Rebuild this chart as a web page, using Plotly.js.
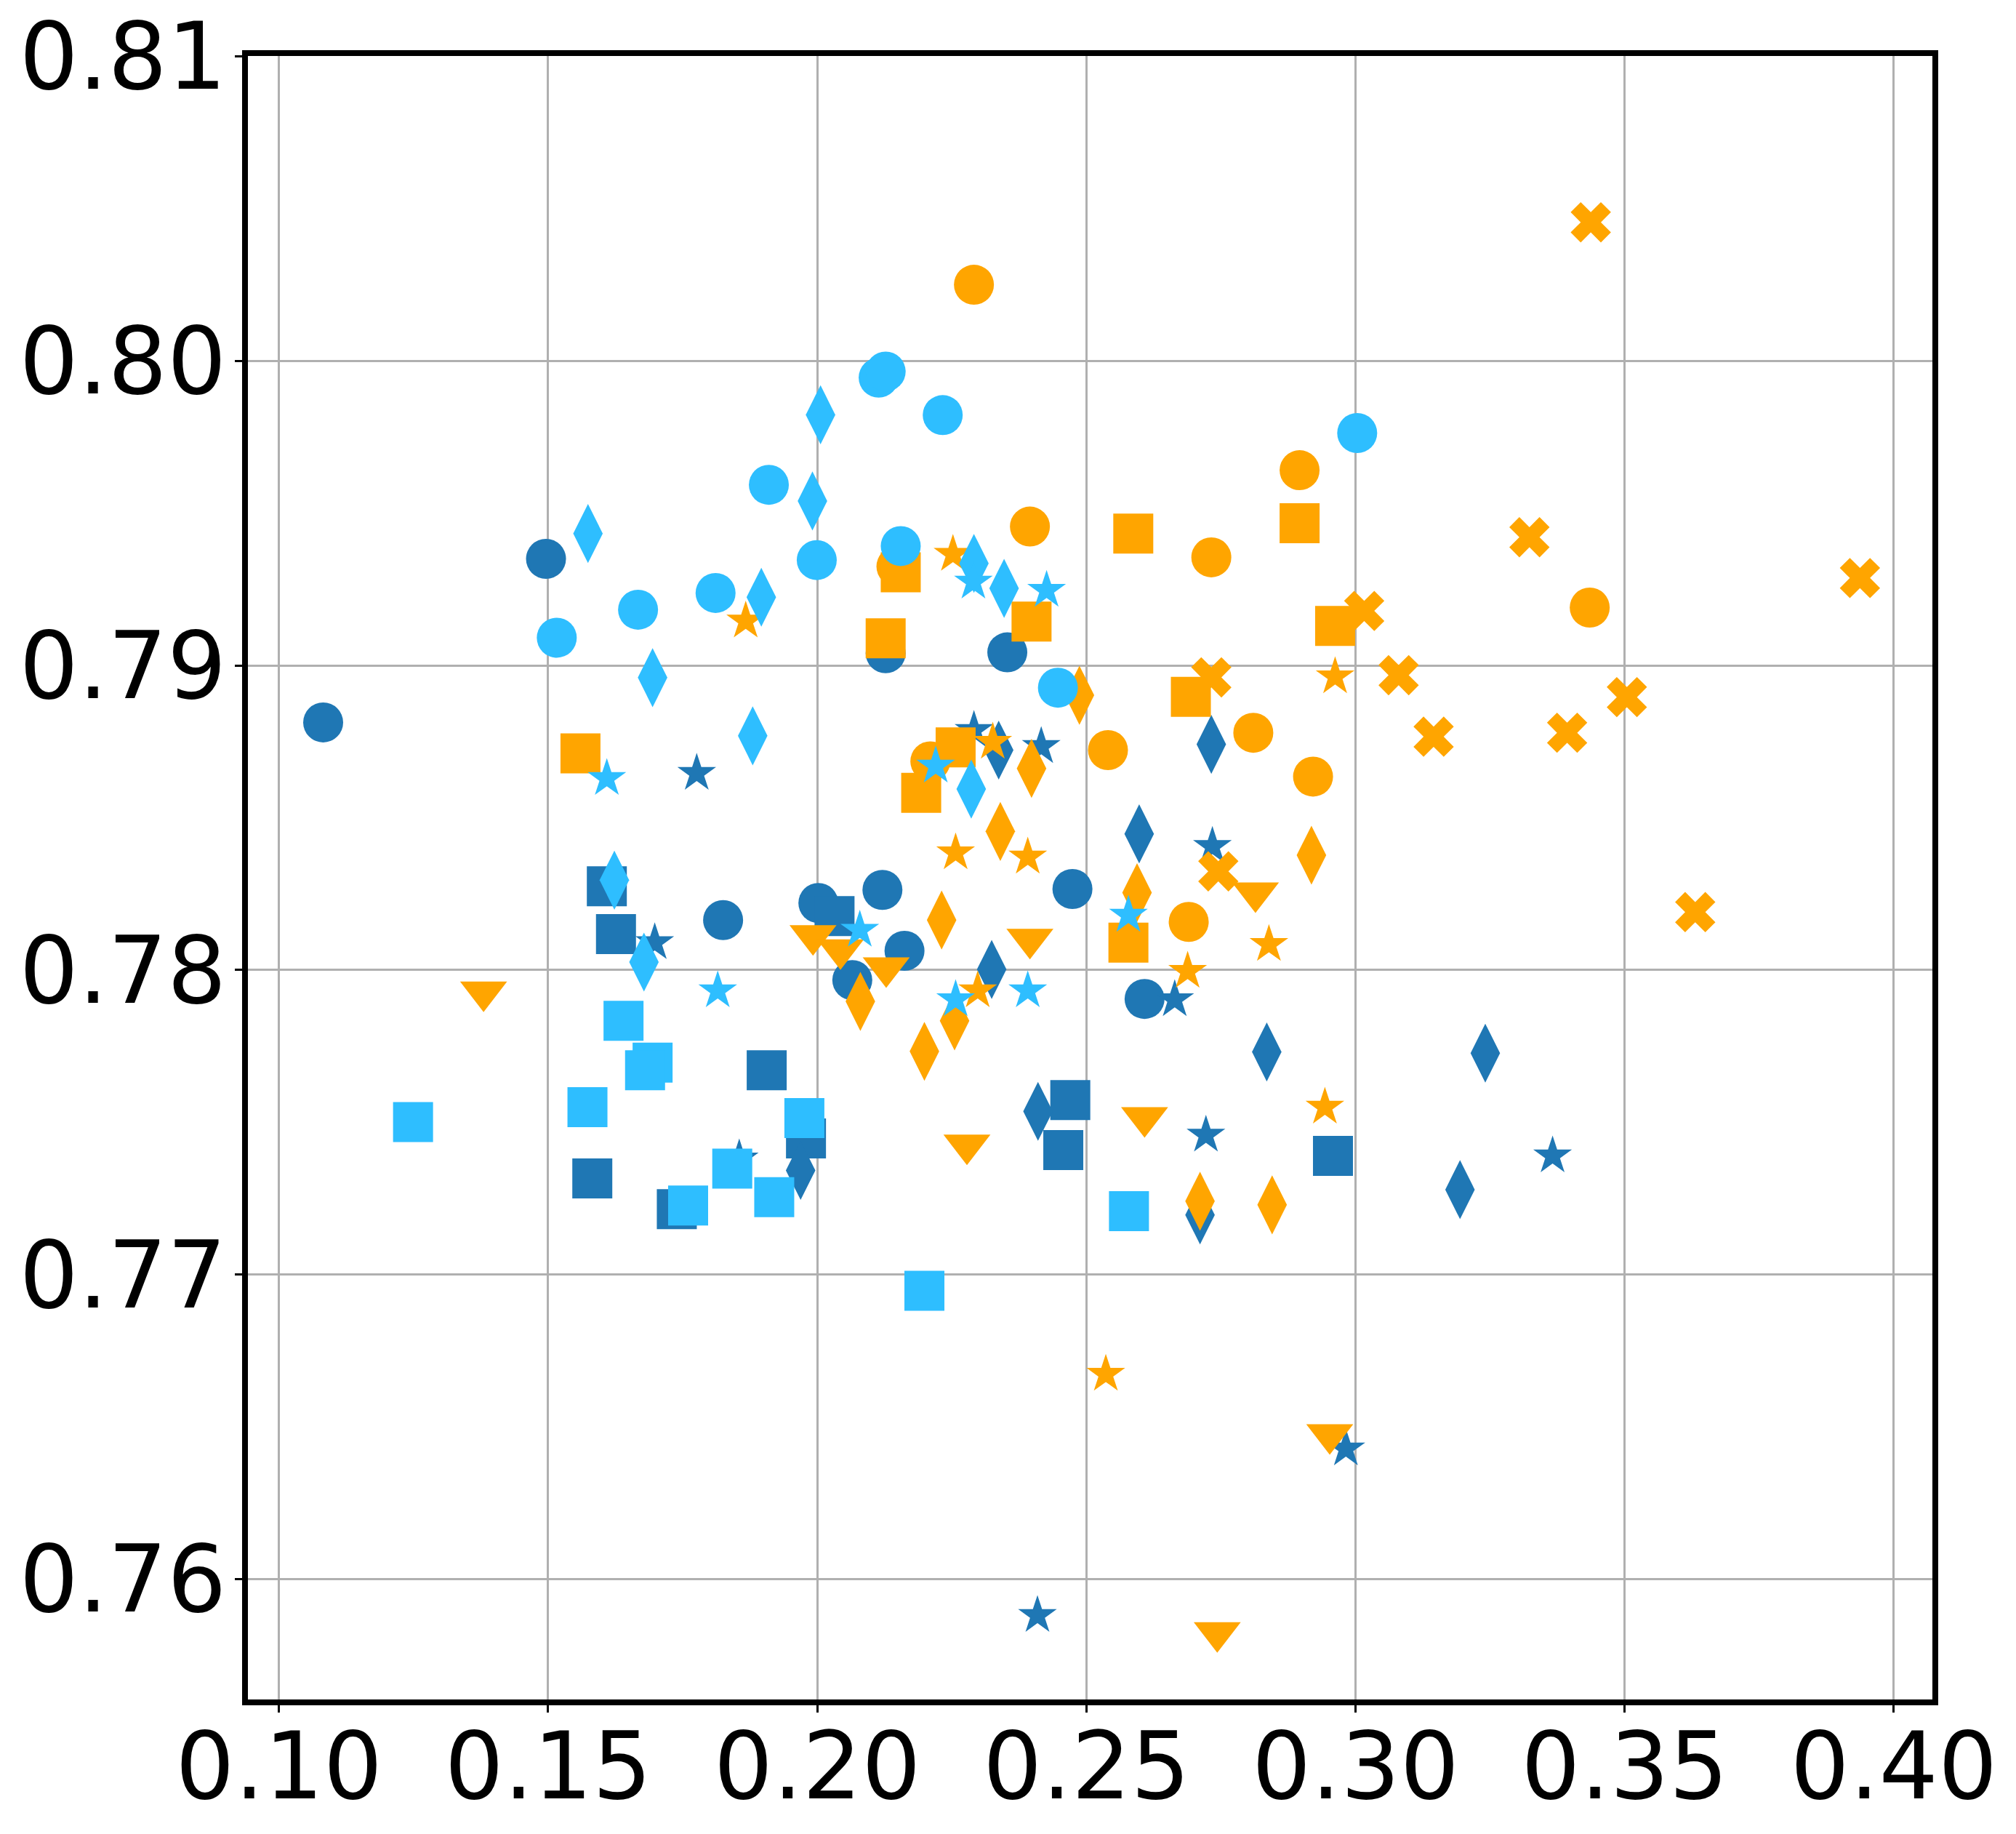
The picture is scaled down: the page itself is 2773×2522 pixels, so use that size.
<!DOCTYPE html>
<html>
<head>
<meta charset="utf-8">
<script src="https://cdn.plot.ly/plotly-3.0.1.min.js"></script>
<style>
  html, body { margin: 0; padding: 0; background: #ffffff; }
  #chart { width: 2773px; height: 2522px; }
</style>
</head>
<body>
<div id="chart"></div>
<script>
// ---------- data ----------
// dark blue series
const darkCircleX = [0.1496, 0.1082, 0.2127, 0.2353, 0.1825, 0.2002, 0.2121, 0.2474, 0.2162, 0.2065, 0.2608];
const darkCircleY = [0.7935, 0.78813, 0.7904, 0.79043, 0.78164, 0.7822, 0.78263, 0.78266, 0.78063, 0.77967, 0.77905];
const darkSquareX = [0.1609, 0.1626, 0.2032, 0.1906, 0.1979, 0.1582, 0.1739, 0.2470, 0.2457, 0.2958];
const darkSquareY = [0.78275, 0.78118, 0.78177, 0.77671, 0.77447, 0.77316, 0.77215, 0.77573, 0.77409, 0.7739];
const darkDiamondX = [0.2732, 0.2337, 0.2598, 0.2324, 0.2835, 0.2410, 0.1969, 0.2711, 0.3194, 0.3241];
const darkDiamondY = [0.78741, 0.78722, 0.78447, 0.78002, 0.77731, 0.77536, 0.77342, 0.77196, 0.77279, 0.77727];
const darkStarX = [0.1776, 0.1698, 0.2291, 0.2416, 0.2734, 0.2664, 0.2722, 0.3366, 0.2982, 0.2409, 0.1855];
const darkStarY = [0.78646, 0.7809, 0.78787, 0.78734, 0.78406, 0.77903, 0.77458, 0.7739, 0.76428, 0.75881, 0.7738];

// orange series
const orangeCircleX = [0.2291, 0.2896, 0.2395, 0.2732, 0.2147, 0.3435, 0.2810, 0.2540, 0.2921, 0.2210, 0.2690];
const orangeCircleY = [0.8025, 0.79641, 0.79456, 0.79355, 0.79325, 0.7919, 0.78779, 0.78722, 0.78635, 0.78685, 0.78158];
const orangeSquareX = [0.2896, 0.2587, 0.2155, 0.2127, 0.2398, 0.2962, 0.2694, 0.1560, 0.2257, 0.2193, 0.2578];
const orangeSquareY = [0.79467, 0.79433, 0.79306, 0.79089, 0.79144, 0.7913, 0.78897, 0.78711, 0.78731, 0.78582, 0.7809];
const orangeDiamondX = [0.2487, 0.2398, 0.2340, 0.2918, 0.2594, 0.2231, 0.2080, 0.2255, 0.2199, 0.2711, 0.2845];
const orangeDiamondY = [0.78902, 0.78662, 0.78455, 0.78377, 0.78254, 0.78164, 0.77897, 0.77833, 0.77733, 0.77241, 0.77229];
const orangeStarX = [0.2252, 0.1867, 0.2962, 0.2326, 0.2257, 0.2391, 0.2839, 0.2688, 0.2298, 0.2943, 0.2536];
const orangeStarY = [0.79365, 0.79146, 0.78963, 0.78748, 0.78385, 0.78371, 0.78084, 0.77996, 0.77932, 0.7755, 0.76673];
const orangeTriX = [0.1380, 0.1992, 0.2043, 0.2128, 0.2395, 0.2814, 0.2608, 0.2278, 0.2952, 0.2743];
const orangeTriY = [0.77929, 0.78114, 0.78067, 0.78008, 0.78102, 0.78254, 0.77516, 0.77426, 0.76475, 0.75825];
const orangeXX = [0.3437, 0.3323, 0.3937, 0.3016, 0.2732, 0.3080, 0.3145, 0.3393, 0.3504, 0.3631, 0.2745];
const orangeXY = [0.80455, 0.79421, 0.79287, 0.79179, 0.78961, 0.78968, 0.78766, 0.78779, 0.78896, 0.7819, 0.78324];

// light blue series
const lightCircleX = [0.1516, 0.1667, 0.1811, 0.1910, 0.1999, 0.2114, 0.2127, 0.2233, 0.3003, 0.2155, 0.2447];
const lightCircleY = [0.79091, 0.79183, 0.79238, 0.79593, 0.79346, 0.79945, 0.79965, 0.79822, 0.79763, 0.79392, 0.78927];
const lightSquareX = [0.1640, 0.1694, 0.1680, 0.1249, 0.1573, 0.1976, 0.1760, 0.1842, 0.1920, 0.2579, 0.2199];
const lightSquareY = [0.77833, 0.77696, 0.77671, 0.77501, 0.7755, 0.77514, 0.77227, 0.77348, 0.77254, 0.77208, 0.76947];
const lightDiamondX = [0.1574, 0.1896, 0.1991, 0.2006, 0.1694, 0.1880, 0.1623, 0.1678, 0.2291, 0.2347, 0.2286];
const lightDiamondY = [0.79433, 0.79224, 0.7954, 0.79823, 0.7896, 0.78769, 0.78295, 0.78026, 0.79335, 0.79253, 0.78594];
const lightStarX = [0.2290, 0.2426, 0.1609, 0.2220, 0.1815, 0.2079, 0.2578, 0.2257, 0.2391];
const lightStarY = [0.79274, 0.79247, 0.78629, 0.7867, 0.77932, 0.78131, 0.7818, 0.77903, 0.77932];

// tick values / labels
const xTicks = [0.10, 0.15, 0.20, 0.25, 0.30, 0.35, 0.40];
const xTickLabels = ['0.10', '0.15', '0.20', '0.25', '0.30', '0.35', '0.40'];
const yTicks = [0.76, 0.77, 0.78, 0.79, 0.80, 0.81];
const yTickLabels = ['0.76', '0.77', '0.78', '0.79', '0.80', '0.81'];

// ---------- styles ----------
const DARK = '#1f77b4', ORANGE = '#ffa500', LIGHT = '#2ebeff';
const SYM = {
  circle: {symbol: 'circle', size: 55},
  square: {symbol: 'square', size: 55},
  diamond: {symbol: 'diamond-tall', size: 58},
  star: {symbol: 'star', size: 40},
  tri: {symbol: 'triangle-down', size: 56},
  x: {symbol: 'x', size: 49}
};
function tr(xs, ys, color, kind) {
  return {
    type: 'scatter', mode: 'markers', x: xs, y: ys, hoverinfo: 'skip', showlegend: false,
    marker: {symbol: SYM[kind].symbol, size: SYM[kind].size, color: color, line: {width: 0}}
  };
}

const data = [
  tr(darkCircleX, darkCircleY, DARK, 'circle'),
  tr(darkSquareX, darkSquareY, DARK, 'square'),
  tr(darkDiamondX, darkDiamondY, DARK, 'diamond'),
  tr(darkStarX, darkStarY, DARK, 'star'),
  tr(orangeCircleX, orangeCircleY, ORANGE, 'circle'),
  tr(orangeSquareX, orangeSquareY, ORANGE, 'square'),
  tr(orangeDiamondX, orangeDiamondY, ORANGE, 'diamond'),
  tr(orangeStarX, orangeStarY, ORANGE, 'star'),
  tr(orangeTriX, orangeTriY, ORANGE, 'tri'),
  tr(orangeXX, orangeXY, ORANGE, 'x'),
  tr(lightCircleX, lightCircleY, LIGHT, 'circle'),
  tr(lightSquareX, lightSquareY, LIGHT, 'square'),
  tr(lightDiamondX, lightDiamondY, LIGHT, 'diamond'),
  tr(lightStarX, lightStarY, LIGHT, 'star')
];

const tickFont = {family: 'DejaVu Sans, sans-serif', size: 128, color: '#000000'};
const layout = {
  width: 2773, height: 2522,
  margin: {l: 341, r: 115, t: 77, b: 185, pad: 0},
  paper_bgcolor: '#ffffff', plot_bgcolor: '#ffffff',
  showlegend: false,
  xaxis: {
    range: [0.09422, 0.40716], tickmode: 'array', tickvals: xTicks, ticktext: xTickLabels,
    showgrid: true, gridcolor: '#b0b0b0', gridwidth: 3, zeroline: false,
    showline: true, linecolor: '#000000', linewidth: 8, mirror: true,
    ticks: 'outside', ticklen: 10, tickwidth: 3, tickcolor: '#000000',
    ticklabelstandoff: -36,
    tickfont: tickFont
  },
  yaxis: {
    range: [0.75605, 0.81001], tickmode: 'array', tickvals: yTicks, ticktext: yTickLabels,
    showgrid: true, gridcolor: '#b0b0b0', gridwidth: 3, zeroline: false,
    showline: true, linecolor: '#000000', linewidth: 8, mirror: true,
    ticks: 'outside', ticklen: 10, tickwidth: 3, tickcolor: '#000000',
    ticklabelstandoff: -14,
    tickfont: tickFont
  }
};

Plotly.newPlot('chart', data, layout, {staticPlot: true, displayModeBar: false});
</script>
</body>
</html>
